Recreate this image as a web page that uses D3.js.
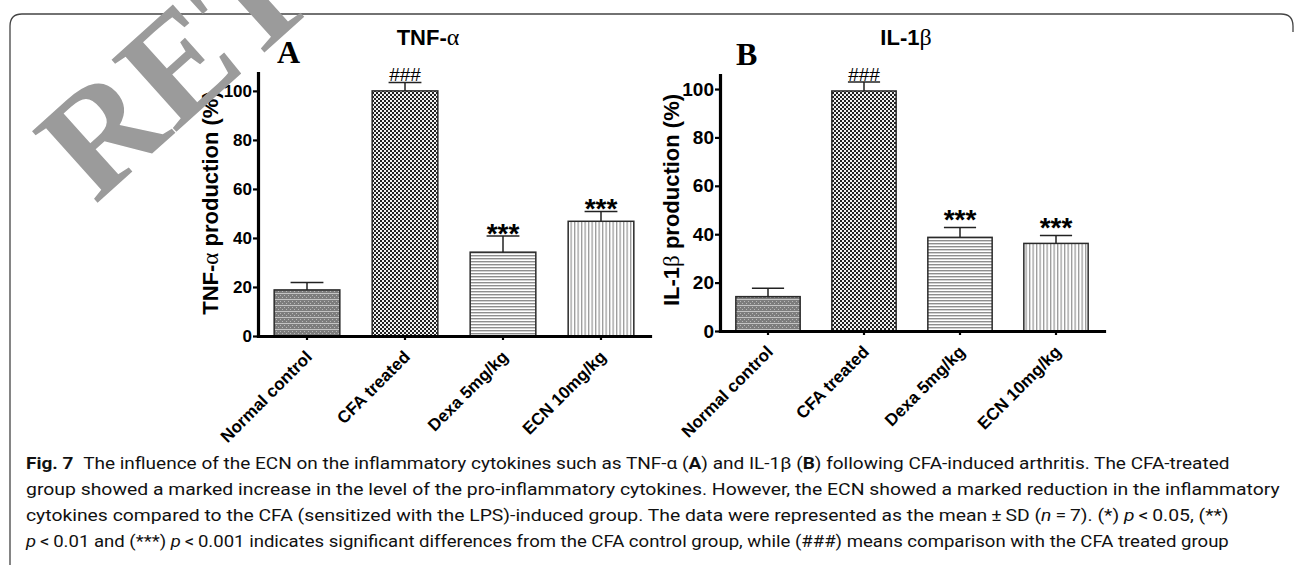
<!DOCTYPE html>
<html>
<head>
<meta charset="utf-8">
<script src="https://cdn.jsdelivr.net/npm/d3@7"></script>
<style>
  body { margin: 0; background: #fff; }
  svg { display: block; }
  .cap { white-space: pre; }
</style>
</head>
<body>
<svg id="chart" width="1295" height="565"></svg>
<script>
// data
var groups = ["Normal control", "CFA treated", "Dexa 5mg/kg", "ECN 10mg/kg"];
var tnfMean = [18.8, 100, 34.2, 46.8];
var tnfSD = [3.0, 3.4, 6.6, 4.0];
var il1Mean = [14.2, 99.2, 38.7, 36.2];
var il1SD = [3.5, 3.7, 4.1, 3.3];
var tnfMarks = ["", "###", "***", "***"];
var il1Marks = ["", "###", "***", "***"];
var yTicks = [0, 20, 40, 60, 80, 100];
var patterns = ["pNormal", "pCFA", "pDexa", "pECN"];

var svg = d3.select("#chart");
var defs = svg.append("defs");

// bar fills
var p = defs.append("pattern").attr("id", "pNormal").attr("patternUnits", "userSpaceOnUse")
	.attr("width", 4).attr("height", 6);
p.append("rect").attr("width", 4).attr("height", 6).attr("fill", "#7d7d7d");
p.append("rect").attr("x", 0).attr("y", 1).attr("width", 1).attr("height", 1).attr("fill", "#b8b8b8");
p.append("rect").attr("x", 2).attr("y", 3).attr("width", 1).attr("height", 1).attr("fill", "#b8b8b8");
p.append("rect").attr("x", 0).attr("y", 5).attr("width", 4).attr("height", 1).attr("fill", "#c4c4c4");

p = defs.append("pattern").attr("id", "pCFA").attr("patternUnits", "userSpaceOnUse")
	.attr("width", 4).attr("height", 4);
p.append("rect").attr("width", 4).attr("height", 4).attr("fill", "#f2f2f2");
p.append("rect").attr("width", 2).attr("height", 2).attr("fill", "#222");
p.append("rect").attr("x", 2).attr("y", 2).attr("width", 2).attr("height", 2).attr("fill", "#222");

p = defs.append("pattern").attr("id", "pDexa").attr("patternUnits", "userSpaceOnUse")
	.attr("width", 4).attr("height", 3);
p.append("rect").attr("width", 4).attr("height", 3).attr("fill", "#fff");
p.append("rect").attr("width", 4).attr("height", 1.4).attr("fill", "#8e8e8e");

p = defs.append("pattern").attr("id", "pECN").attr("patternUnits", "userSpaceOnUse")
	.attr("width", 3.5).attr("height", 4);
p.append("rect").attr("width", 3.5).attr("height", 4).attr("fill", "#fff");
p.append("rect").attr("width", 1.3).attr("height", 4).attr("fill", "#9a9a9a");

// frame
svg.append("path")
	.attr("d", "M1293,32 V26 Q1293,14 1281,14 H22 Q10,14 10,26 V565")
	.attr("fill", "none").attr("stroke", "#444").attr("stroke-width", 1.3);

var panels = [
	{ mean: tnfMean, sd: tnfSD, marks: tnfMarks, left: 258, right: 650, y0: 336, yTop: 73, yMax: 107.3,
		tickFont: 17, title: ["TNF-", "\u03b1"], titleX: 428, label: "A", labelX: 277, labelY: 63,
		ytitle: ["TNF-", "\u03b1", " production (%)"], ytitleX: 218, ytitleY: 203, starGap: 7 },
	{ mean: il1Mean, sd: il1SD, marks: il1Marks, left: 720, right: 1104, y0: 331, yTop: 75, yMax: 105.8,
		tickFont: 19, title: ["IL-1", "\u03b2"], titleX: 906, label: "B", labelX: 736, labelY: 65,
		ytitle: ["IL-1", "\u03b2", " production (%)"], ytitleX: 679, ytitleY: 200, starGap: 2 }
];

panels.forEach(drawPanel);

function drawPanel (cfg) {
	var g = svg.append("g");
	var x = d3.scaleBand().domain(groups).range([cfg.left, cfg.right])
		.paddingInner(0.33).paddingOuter(0.165);
	var y = d3.scaleLinear().domain([0, cfg.yMax]).range([cfg.y0, cfg.yTop]);
	var rows = groups.map(function (name, i) {
		return { name: name, mean: cfg.mean[i], sd: cfg.sd[i], mark: cfg.marks[i], fill: patterns[i] };
	});

	g.selectAll("rect.bar").data(rows).enter().append("rect")
		.attr("class", "bar")
		.attr("x", function (d) { return x(d.name); })
		.attr("y", function (d) { return y(d.mean); })
		.attr("width", x.bandwidth())
		.attr("height", function (d) { return y(0) - y(d.mean); })
		.attr("fill", function (d) { return "url(#" + d.fill + ")"; })
		.attr("stroke", "#2a2a2a").attr("stroke-width", 1.5);

	// error bars, upper half only
	var cx = function (d) { return x(d.name) + x.bandwidth() / 2; };
	g.selectAll("line.err").data(rows).enter().append("line")
		.attr("x1", cx).attr("x2", cx)
		.attr("y1", function (d) { return y(d.mean); })
		.attr("y2", function (d) { return y(d.mean + d.sd); })
		.attr("stroke", "#222").attr("stroke-width", 1.5);
	g.selectAll("line.cap").data(rows).enter().append("line")
		.attr("x1", function (d) { return cx(d) - x.bandwidth() / 4; })
		.attr("x2", function (d) { return cx(d) + x.bandwidth() / 4; })
		.attr("y1", function (d) { return y(d.mean + d.sd); })
		.attr("y2", function (d) { return y(d.mean + d.sd); })
		.attr("stroke", "#222").attr("stroke-width", 1.5);

	g.selectAll("text.mark").data(rows.filter(function (d) { return d.mark; })).enter().append("text")
		.attr("x", cx)
		.attr("y", function (d) {
			return d.mark == "###" ? y(d.mean + d.sd) - 1.5 : y(d.mean + d.sd) + cfg.starGap;
		})
		.attr("text-anchor", "middle")
		.attr("fill", "#000")
		.attr("font-family", "Liberation Sans, Arial, sans-serif")
		.attr("font-size", function (d) { return d.mark == "###" ? 19 : 28; })
		.attr("font-weight", function (d) { return d.mark == "###" ? "normal" : "bold"; })
		.text(function (d) { return d.mark; });

	// axes
	var yAxis = g.append("g").attr("transform", "translate(" + cfg.left + ",0)")
		.call(d3.axisLeft(y).tickValues(yTicks).tickSize(5).tickSizeOuter(0).tickPadding(1));
	var xAxis = g.append("g").attr("transform", "translate(0," + cfg.y0 + ")")
		.call(d3.axisBottom(x).tickSize(4).tickSizeOuter(0));

	[yAxis, xAxis].forEach(function (a) {
		a.select(".domain").attr("stroke", "#000").attr("stroke-width", 3.2).attr("stroke-linecap", "square");
		a.selectAll(".tick line").attr("stroke", "#000").attr("stroke-width", 2.2);
		a.selectAll("text").attr("fill", "#000")
			.attr("font-family", "Liberation Sans, Arial, sans-serif").attr("font-weight", "bold");
	});
	yAxis.selectAll("text").attr("font-size", cfg.tickFont);
	xAxis.selectAll("text").attr("font-size", 17)
		.attr("x", 0).attr("y", 0).attr("dy", 0)
		.attr("text-anchor", "end")
		.attr("transform", "translate(6,22) rotate(-45)");

	// titles
	var t = g.append("text").attr("x", cfg.titleX).attr("y", 45).attr("text-anchor", "middle")
		.attr("font-family", "Liberation Sans, Arial, sans-serif").attr("font-size", 22).attr("font-weight", "bold");
	t.append("tspan").text(cfg.title[0]);
	t.append("tspan").attr("font-family", "Liberation Serif, serif").attr("font-weight", "normal").attr("font-size", 24).text(cfg.title[1]);

	g.append("text").attr("x", cfg.labelX).attr("y", cfg.labelY)
		.attr("font-family", "Liberation Serif, Times New Roman, serif").attr("font-size", 32).attr("font-weight", "bold")
		.text(cfg.label);

	var yt = g.append("text")
		.attr("transform", "translate(" + cfg.ytitleX + "," + cfg.ytitleY + ") rotate(-90)")
		.attr("text-anchor", "middle")
		.attr("font-family", "Liberation Sans, Arial, sans-serif").attr("font-size", 22).attr("font-weight", "bold");
	yt.append("tspan").text(cfg.ytitle[0]);
	yt.append("tspan").attr("font-family", "Liberation Serif, serif").attr("font-weight", "normal").attr("font-size", 23).text(cfg.ytitle[1]);
	yt.append("tspan").text(cfg.ytitle[2]);
}

// caption
var captionLines = [
	{ y: 469, w: 1205, parts: [["b", "Fig. 7"], ["", "\u2002The influence of the ECN on the inflammatory cytokines such as TNF-\u03b1 ("], ["b", "A"], ["", ") and IL-1\u03b2 ("], ["b", "B"], ["", ") following CFA-induced arthritis. The CFA-treated"]] },
	{ y: 495, w: 1255, parts: [["", "group showed a marked increase in the level of the pro-inflammatory cytokines. However, the ECN showed a marked reduction in the inflammatory"]] },
	{ y: 521, w: 1203, parts: [["", "cytokines compared to the CFA (sensitized with the LPS)-induced group. The data were represented as the mean\u2009\u00b1\u2009SD ("], ["i", "n"], ["", "\u2009=\u20097). (*) "], ["i", "p"], ["", "\u2009<\u20090.05, (**)"]] },
	{ y: 547, w: 1203, parts: [["i", "p"], ["", "\u2009<\u20090.01 and (***) "], ["i", "p"], ["", "\u2009<\u20090.001 indicates significant differences from the CFA control group, while (###) means comparison with the CFA treated group"]] }
];

captionLines.forEach(function (line) {
	var txt = svg.append("text").attr("class", "cap")
		.attr("x", 0).attr("y", 0)
		.attr("font-family", "Roboto, Open Sans, sans-serif").attr("font-size", 17).attr("fill", "#111");
	line.parts.forEach(function (part) {
		var s = txt.append("tspan").text(part[1]);
		if (part[0] == "b") s.attr("font-weight", "bold");
		if (part[0] == "i") s.attr("font-style", "italic");
	});
	var w = txt.node().getComputedTextLength();
	txt.attr("transform", "translate(26," + line.y + ") scale(" + (line.w / w) + ",1)");
});

// watermark over everything
svg.append("text")
	.attr("transform", "translate(95,205) rotate(-42)")
	.attr("font-family", "Liberation Serif, Times New Roman, serif")
	.attr("font-size", 148)
	.attr("font-weight", "bold")
	.attr("fill", "#9b9b9b")
	.text("RETRACTED");
</script>
</body>
</html>
